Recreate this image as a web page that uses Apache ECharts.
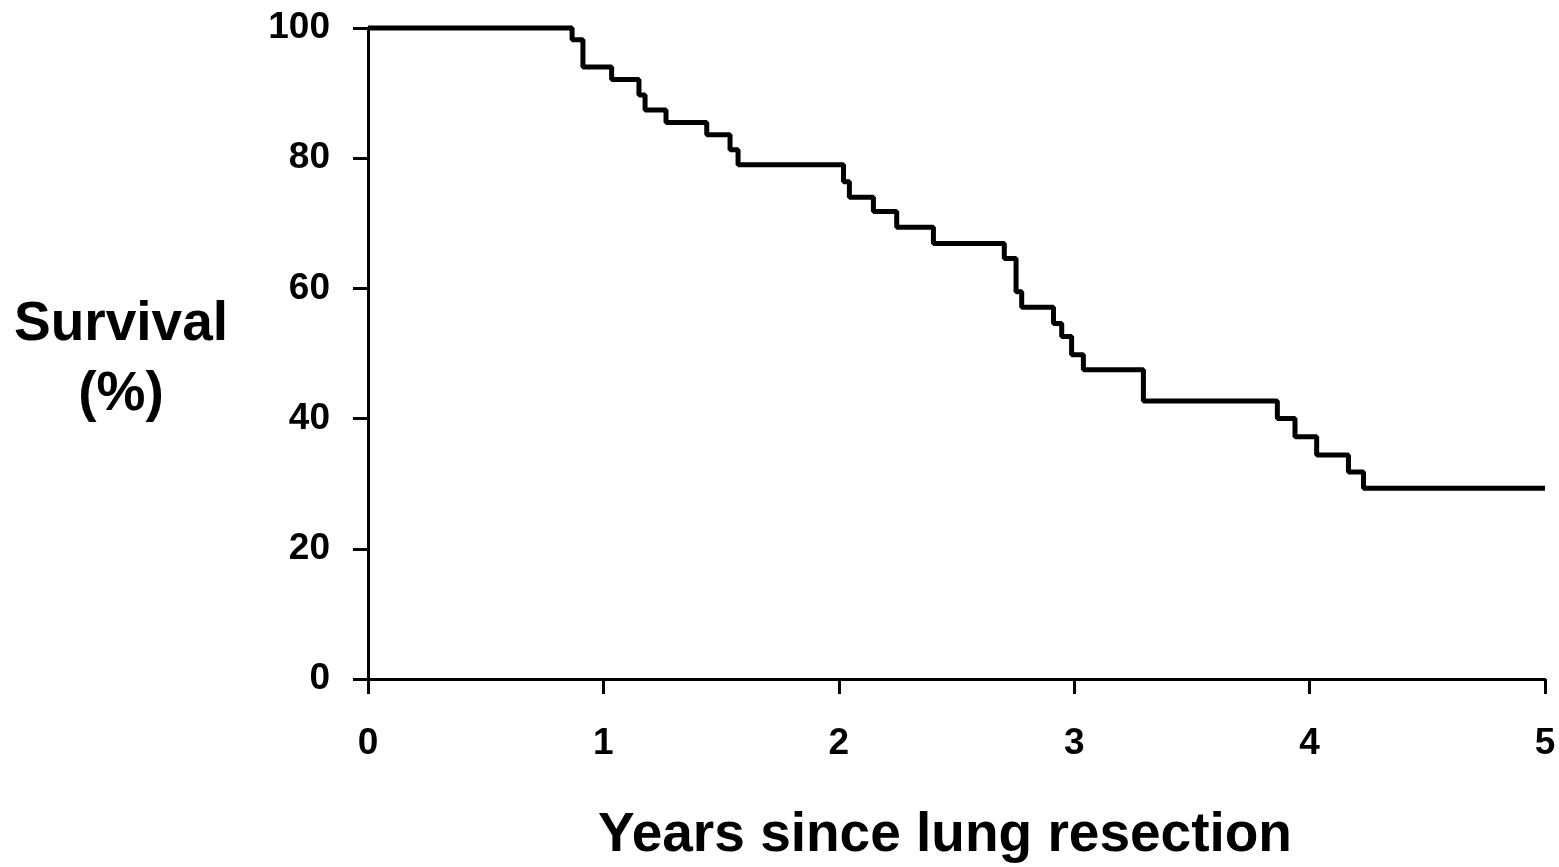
<!DOCTYPE html>
<html>
<head>
<meta charset="utf-8">
<title>Survival after lung resection</title>
<script src="https://cdn.jsdelivr.net/npm/echarts@6/dist/echarts.min.js"></script>
<style>
  html, body { margin: 0; padding: 0; background: #fff; }
  #chart { width: 1559px; height: 867px; }
</style>
</head>
<body>
<div id="chart"></div>
<script>
// Kaplan-Meier estimate: each time is where survival steps down to the paired value
const years = [0, 0.867, 0.913, 1.035, 1.151, 1.177, 1.266, 1.439, 1.538, 1.572,
  2.02, 2.045, 2.147, 2.246, 2.402, 2.703, 2.753, 2.777, 2.912, 2.947, 2.989,
  3.039, 3.294, 3.863, 3.938, 4.03, 4.165, 4.229, 5.0];
const survival = [100, 98.2, 94.0, 92.1, 89.7, 87.4, 85.5, 83.6, 81.3, 79.0,
  76.4, 74.0, 71.8, 69.4, 66.9, 64.6, 59.5, 57.1, 54.6, 52.6, 49.8,
  47.5, 42.7, 40.0, 37.2, 34.4, 31.8, 29.3, 29.3];
const xTicks = [0, 1, 2, 3, 4, 5];
const yTicks = [0, 20, 40, 60, 80, 100];
const xTitle = 'Years since lung resection';
const yTitleLines = ['Survival', '(%)'];

const FONT = '"Liberation Sans", Arial, sans-serif';
const axisLine = { show: true, onZero: false, lineStyle: { color: '#000', width: 3 } };
const axisTick = { show: true, inside: false, length: 15, lineStyle: { color: '#000', width: 3 } };

const chart = echarts.init(document.getElementById('chart'), null, { renderer: 'canvas' });
chart.setOption({
  animation: false,
  backgroundColor: '#fff',
  grid: { left: 368, right: 14, top: 28, bottom: 188, containLabel: false },
  xAxis: {
    type: 'value',
    min: xTicks[0],
    max: xTicks[xTicks.length - 1],
    interval: 1,
    axisLine: axisLine,
    axisTick: axisTick,
    splitLine: { show: false },
    axisLabel: {
      margin: 46,
      color: '#000',
      fontFamily: FONT,
      fontWeight: 'bold',
      fontSize: 37,
      formatter: v => xTicks.includes(v) ? String(v) : ''
    }
  },
  yAxis: {
    type: 'value',
    min: yTicks[0],
    max: yTicks[yTicks.length - 1],
    interval: 20,
    axisLine: axisLine,
    axisTick: axisTick,
    splitLine: { show: false },
    axisLabel: {
      margin: 38,
      color: '#000',
      fontFamily: FONT,
      fontWeight: 'bold',
      fontSize: 37,
      formatter: v => yTicks.includes(v) ? String(v) : ''
    }
  },
  graphic: [
    {
      type: 'text', x: 945, y: 836,
      style: { text: xTitle, fill: '#000', font: 'bold 55px ' + FONT, textAlign: 'center', textVerticalAlign: 'middle' }
    },
    {
      type: 'text', x: 121, y: 325,
      style: { text: yTitleLines[0], fill: '#000', font: 'bold 55px ' + FONT, textAlign: 'center', textVerticalAlign: 'middle' }
    },
    {
      type: 'text', x: 121, y: 395,
      style: { text: yTitleLines[1], fill: '#000', font: 'bold 55px ' + FONT, textAlign: 'center', textVerticalAlign: 'middle' }
    }
  ],
  series: [{
    type: 'line',
    step: 'end',
    data: years.map((t, i) => [t, survival[i]]),
    showSymbol: false,
    symbol: 'none',
    lineStyle: { color: '#000', width: 5 },
    clip: false
  }]
});
</script>
</body>
</html>
